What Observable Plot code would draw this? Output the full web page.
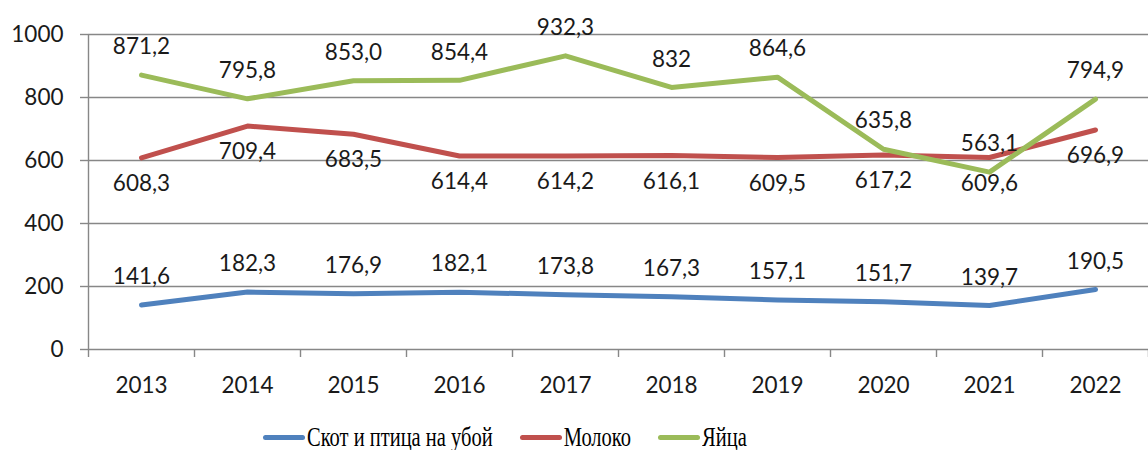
<!DOCTYPE html>
<html><head><meta charset="utf-8">
<script src="https://cdn.jsdelivr.net/npm/d3@7"></script>
<script src="https://cdn.jsdelivr.net/npm/@observablehq/plot@0.6"></script>
<style>
body{margin:0;background:#fff;}
#wrap{position:relative;width:1148px;height:450px;overflow:hidden;}
#legend{position:absolute;left:263px;top:424px;height:26px;display:flex;align-items:center;font-family:"Liberation Serif","Times New Roman",serif;font-size:20.5px;color:#000;}
.item{display:flex;align-items:center;margin-right:27px;}
.sw{width:42px;height:5px;border-radius:3px;margin-right:2px;}
.txt{display:inline-block;transform:scaleY(1.35);transform-origin:center;}
</style></head><body><div id="wrap"></div>
<script>
const years = [2013, 2014, 2015, 2016, 2017, 2018, 2019, 2020, 2021, 2022];
const seriesNames = ["Скот и птица на убой", "Молоко", "Яйца"];
const livestock = [141.6, 182.3, 176.9, 182.1, 173.8, 167.3, 157.1, 151.7, 139.7, 190.5];
const milk = [608.3, 709.4, 683.5, 614.4, 614.2, 616.1, 609.5, 617.2, 609.6, 696.9];
const eggs = [871.2, 795.8, 853.0, 854.4, 932.3, 832, 864.6, 635.8, 563.1, 794.9];
const livestockLabels = ["141,6", "182,3", "176,9", "182,1", "173,8", "167,3", "157,1", "151,7", "139,7", "190,5"];
const milkLabels = ["608,3", "709,4", "683,5", "614,4", "614,2", "616,1", "609,5", "617,2", "609,6", "696,9"];
const eggsLabels = ["871,2", "795,8", "853,0", "854,4", "932,3", "832", "864,6", "635,8", "563,1", "794,9"];
const yTicks = [0, 200, 400, 600, 800, 1000];
const colors = ["#4F81BD", "#C0504D", "#9BBB59"];

const values = [livestock, milk, eggs];
const labels = [livestockLabels, milkLabels, eggsLabels];
const rows = [];
seriesNames.forEach((s, i) => years.forEach((yr, j) => rows.push({series: s, year: yr, value: values[i][j], label: labels[i][j]})));
const bySeries = s => rows.filter(r => r.series === s);
const boundaries = [years[0] - 0.5, ...years.map(y => y + 0.5)];

const gray = "#878787";
const font = "Lato, 'Open Sans', sans-serif";
const fs = 22.5;

const chart = Plot.plot({
  width: 1148,
  height: 415,
  marginLeft: 88,
  marginRight: 0,
  marginTop: 34,
  marginBottom: 66,
  style: {fontFamily: font, fontSize: fs + "px", color: "#1a1a1a", background: "#fff"},
  x: {type: "linear", domain: [boundaries[0], boundaries[boundaries.length - 1]]},
  y: {domain: [0, 1000]},
  color: {domain: seriesNames, range: colors},
  marks: [
    Plot.ruleY(yTicks, {stroke: gray, strokeWidth: 1.4}),
    Plot.ruleX([boundaries[0]], {stroke: gray, strokeWidth: 1.4}),
    Plot.axisY({ticks: yTicks, tickSize: 8, tickPadding: 17, tickFormat: d => String(d), stroke: gray, strokeWidth: 1.4, fontSize: fs, fill: "#1a1a1a", label: null}),
    Plot.axisX({ticks: boundaries, tickSize: 8, tickFormat: () => "", stroke: gray, strokeWidth: 1.4, label: null}),
    Plot.axisX({ticks: years, tickSize: 0, tickPadding: 28, tickFormat: d => String(d), fontSize: fs, fill: "#1a1a1a", label: null}),
    ...seriesNames.map(s => Plot.line(bySeries(s), {x: "year", y: "value", stroke: "series", strokeWidth: 5, strokeLinejoin: "round", strokeLinecap: "round"})),
    Plot.text(bySeries(seriesNames[0]), {x: "year", y: "value", text: "label", dy: -28, fontSize: fs, fill: "#1a1a1a"}),
    Plot.text(bySeries(seriesNames[1]), {x: "year", y: "value", text: "label", dy: 26, fontSize: fs, fill: "#1a1a1a"}),
    Plot.text(bySeries(seriesNames[2]), {x: "year", y: "value", text: "label", dy: -28, fontSize: fs, fill: "#1a1a1a"})
  ]
});
const wrap = document.getElementById("wrap");
wrap.appendChild(chart);

const legend = document.createElement("div");
legend.id = "legend";
seriesNames.forEach((s, i) => {
  const item = document.createElement("div");
  item.className = "item";
  const sw = document.createElement("span");
  sw.className = "sw";
  sw.style.background = colors[i];
  const t = document.createElement("span");
  t.className = "txt";
  t.textContent = s;
  item.appendChild(sw);
  item.appendChild(t);
  legend.appendChild(item);
});
wrap.appendChild(legend);
</script>
</body></html>
